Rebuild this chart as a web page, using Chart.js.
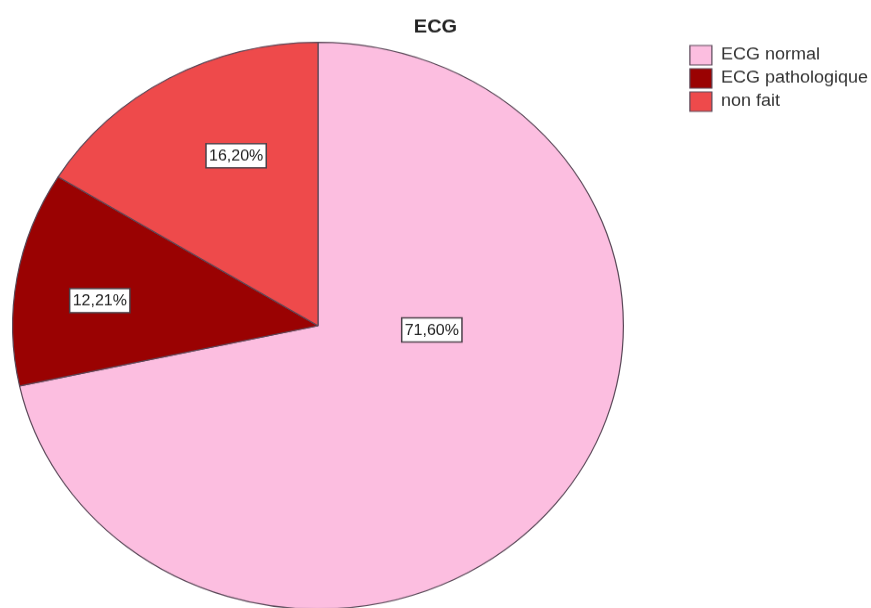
<!DOCTYPE html>
<html>
<head>
<meta charset="utf-8">
<script src="https://cdn.jsdelivr.net/npm/chart.js@4/dist/chart.umd.min.js"></script>
<style>
	html, body { margin: 0; padding: 0; background: #fff; overflow: hidden; }
	body { width: 871px; height: 608px; }
	/* the reference picture is a bit squashed vertically, so the pie is an ellipse */
	#wrap { width: 871px; height: 660px; transform: scaleY(0.928); transform-origin: 0 0; }
</style>
</head>
<body>
<div id="wrap"><canvas id="ecg-chart"></canvas></div>
<script>
const categories = ["ECG normal", "ECG pathologique", "non fait"];
const percentages = [71.60, 12.21, 16.20];
const sliceColors = ["#fcbee0", "#9a0202", "#ee4a4b"];

// where each value box sits: t = share of the slice's sweep, r = share of the radius
const labelSpots = [
	{ t: 0.358, r: 0.373 },
	{ t: 0.44, r: 0.72 },
	{ t: 0.587, r: 0.657 },
];

// SPSS leaves a gap between the pie and the legend; narrow the pie area
// and nudge the legend to the right like in the original
const spssLayout = {
	id: "spssLayout",
	afterLayout(chart) {
		const area = chart.chartArea;
		area.right = area.left + 636;
		area.width = 636;
		chart.legend.left += 7;
		chart.legend.right += 7;
	},
};

const boxLabels = {
	id: "boxLabels",
	afterDatasetsDraw(chart) {
		const ctx = chart.ctx;
		const arcs = chart.getDatasetMeta(0).data;
		ctx.save();
		ctx.font = "16px 'Liberation Sans', Arial, sans-serif";
		ctx.textAlign = "center";
		ctx.textBaseline = "middle";
		arcs.forEach((arc, i) => {
			const p = arc.getProps(["x", "y", "startAngle", "endAngle", "outerRadius"], true);
			const spot = labelSpots[i];
			const a = p.startAngle + (p.endAngle - p.startAngle) * spot.t;
			const r = p.outerRadius * spot.r;
			const cx = p.x + Math.cos(a) * r;
			const cy = p.y + Math.sin(a) * r;
			const text = percentages[i].toFixed(2).replace(".", ",") + "%";
			const w = ctx.measureText(text).width + 6;
			const h = 26;
			ctx.fillStyle = "#ffffff";
			ctx.fillRect(cx - w / 2, cy - h / 2, w, h);
			ctx.strokeStyle = "#4a4048";
			ctx.lineWidth = 1.5;
			ctx.strokeRect(cx - w / 2, cy - h / 2, w, h);
			ctx.fillStyle = "#222";
			ctx.fillText(text, cx, cy + 1);
		});
		ctx.restore();
	},
};

new Chart(document.getElementById("ecg-chart"), {
	type: "pie",
	data: {
		labels: categories,
		datasets: [
			{
				data: percentages,
				backgroundColor: sliceColors,
				borderColor: "#5a4858",
				borderWidth: 1.2,
			},
		],
	},
	options: {
		responsive: true,
		maintainAspectRatio: false,
		animation: false,
		layout: {
			padding: { left: 0, right: 0, top: 0, bottom: 3 },
		},
		plugins: {
			title: {
				display: true,
				text: "ECG",
				color: "#222",
				font: { family: "'Liberation Sans', Arial, sans-serif", size: 20, weight: "bold" },
				padding: { top: 17, bottom: 4 },
			},
			legend: {
				position: "right",
				align: "start",
				fullSize: false,
				labels: {
					color: "#333",
					font: { family: "'Liberation Sans', Arial, sans-serif", size: 18 },
					boxWidth: 22,
					boxHeight: 21,
					padding: 4,
				},
			},
			tooltip: { enabled: false },
		},
	},
	plugins: [spssLayout, boxLabels],
});
</script>
</body>
</html>
